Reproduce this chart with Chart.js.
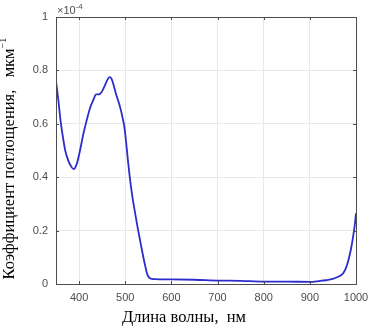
<!DOCTYPE html>
<html>
<head>
<meta charset="utf-8">
<script src="https://cdn.jsdelivr.net/npm/chart.js@4"></script>
<style>
  html, body { margin: 0; padding: 0; background: #fff; }
  #wrap { width: 384px; height: 333px; }
</style>
</head>
<body>
<div id="wrap"><canvas id="absorb" width="384" height="333"></canvas></div>
<script>
// wavelength, nm
const wavelengths = [350, 355, 360, 365, 370, 377, 383, 388, 395, 402, 409, 416, 424, 431, 437, 443, 447, 451, 455, 460, 466, 470, 474, 478, 482, 486, 490, 494, 498, 502, 506, 512, 517, 521, 527, 532, 537, 543, 548, 553, 558, 565, 580, 600, 650, 700, 750, 800, 850, 900, 920, 935, 950, 960, 970, 977, 983, 989, 994, 998, 1000];
// absorption coefficient, x1e-4 um^-1
const absorption = [0.76, 0.69, 0.61, 0.55, 0.50, 0.46, 0.44, 0.43, 0.45, 0.50, 0.56, 0.61, 0.66, 0.69, 0.71, 0.71, 0.715, 0.725, 0.74, 0.76, 0.775, 0.77, 0.75, 0.725, 0.70, 0.68, 0.655, 0.625, 0.59, 0.53, 0.46, 0.37, 0.31, 0.27, 0.21, 0.165, 0.12, 0.07, 0.035, 0.022, 0.019, 0.018, 0.017, 0.017, 0.016, 0.013, 0.012, 0.009, 0.009, 0.008, 0.011, 0.014, 0.019, 0.026, 0.036, 0.055, 0.085, 0.13, 0.18, 0.23, 0.265];
const xTicks = [400, 500, 600, 700, 800, 900, 1000];
const yTicks = [0, 0.2, 0.4, 0.6, 0.8, 1];

const yLabel = 'Коэффициент поглощения,   мкм';
const xLabel = 'Длина волны,  нм';
const exponentLabel = '×10';

const points = wavelengths.map((w, i) => ({ x: w, y: absorption[i] }));

const decor = {
  id: 'decor',
  afterDraw(chart) {
    const ctx = chart.ctx;
    const a = chart.chartArea;
    const xs = chart.scales.x, ys = chart.scales.y;
    ctx.save();
    // box
    ctx.strokeStyle = '#4d4d4d';
    ctx.lineWidth = 1;
    ctx.strokeRect(Math.round(a.left) + 0.5, Math.round(a.top) + 0.5, Math.round(a.right - a.left), Math.round(a.bottom - a.top));
    // inward ticks
    ctx.beginPath();
    xTicks.forEach(v => {
      const px = Math.round(xs.getPixelForValue(v)) + 0.5;
      ctx.moveTo(px, a.bottom); ctx.lineTo(px, a.bottom - 3);
      ctx.moveTo(px, a.top); ctx.lineTo(px, a.top + 3);
    });
    yTicks.forEach(v => {
      const py = Math.round(ys.getPixelForValue(v)) + 0.5;
      ctx.moveTo(a.left, py); ctx.lineTo(a.left + 3, py);
      ctx.moveTo(a.right, py); ctx.lineTo(a.right - 3, py);
    });
    ctx.stroke();

    // exponent
    ctx.fillStyle = '#4d4d4d';
    ctx.font = '11px "Liberation Sans", Arial, sans-serif';
    ctx.textBaseline = 'alphabetic';
    ctx.textAlign = 'left';
    ctx.fillText(exponentLabel, a.left + 1, a.top - 3);
    const ew = ctx.measureText(exponentLabel).width;
    ctx.font = '8px "Liberation Sans", Arial, sans-serif';
    ctx.fillText('-4', a.left + 1 + ew, a.top - 8);

    // axis titles
    ctx.fillStyle = '#000';
    ctx.font = '16.5px "Liberation Serif", "Times New Roman", serif';
    ctx.textAlign = 'center';
    ctx.textBaseline = 'middle';
    ctx.fillText(xLabel, 184, 318);

    ctx.translate(10, 160);
    ctx.rotate(-Math.PI / 2);
    const w = ctx.measureText(yLabel).width;
    ctx.textAlign = 'left';
    ctx.fillText(yLabel, -w / 2 - 4, 0);
    ctx.font = '10px "Liberation Serif", "Times New Roman", serif';
    ctx.fillText('−1', w / 2 - 4, -7);
    ctx.restore();
  }
};

new Chart(document.getElementById('absorb'), {
  type: 'line',
  data: {
    datasets: [{
      data: points,
      borderColor: 'rgb(45,45,205)',
      borderWidth: 1.8,
      pointRadius: 0,
      tension: 0.4,
      cubicInterpolationMode: 'monotone',
      fill: false
    }]
  },
  options: {
    responsive: false,
    animation: false,
    layout: { padding: { left: 0, top: 17, right: 28, bottom: 0 } },
    plugins: { legend: { display: false }, tooltip: { enabled: false } },
    scales: {
      x: {
        type: 'linear',
        min: 350, max: 1000,
        afterBuildTicks: s => { s.ticks = xTicks.map(v => ({ value: v })); },
        afterFit: s => { s.height = 49; },
        grid: { color: '#e8e8e8', drawTicks: false },
        border: { display: false },
        ticks: {
          padding: 7,
          color: '#4d4d4d',
          font: { family: '"Liberation Sans", Arial, sans-serif', size: 11 },
          maxRotation: 0,
          callback: v => String(v)
        }
      },
      y: {
        min: 0, max: 1,
        afterBuildTicks: s => { s.ticks = yTicks.map(v => ({ value: v })); },
        afterFit: s => { s.width = 56; },
        grid: { color: '#e8e8e8', drawTicks: false },
        border: { display: false },
        ticks: {
          padding: 8,
          color: '#4d4d4d',
          font: { family: '"Liberation Sans", Arial, sans-serif', size: 11 },
          callback: v => String(v)
        }
      }
    }
  },
  plugins: [decor]
});
</script>
</body>
</html>
